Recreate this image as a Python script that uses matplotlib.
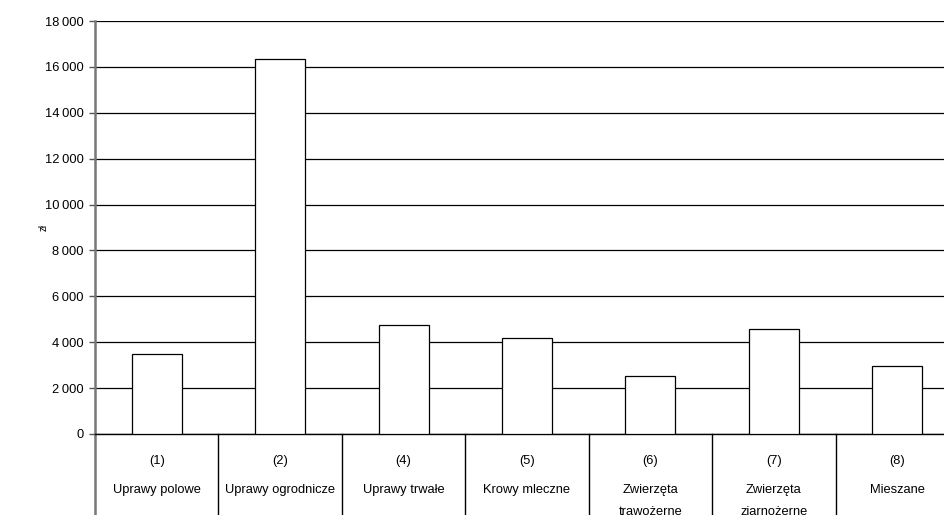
import numpy as np
import matplotlib.pyplot as plt
import matplotlib.transforms as mtransforms

plt.rcParams['font.family'] = ['Liberation Sans', 'DejaVu Sans']

codes = ['(1)', '(2)', '(4)', '(5)', '(6)', '(7)', '(8)']
names = ['Uprawy polowe', 'Uprawy ogrodnicze', 'Uprawy trwałe', 'Krowy mleczne',
         'Zwierzęta\ntrawożerne', 'Zwierzęta\nziarnożerne', 'Mieszane']
values = [3480, 16350, 4750, 4170, 2515, 4580, 2975]
yticks = [0, 2000, 4000, 6000, 8000, 10000, 12000, 14000, 16000, 18000]

W, H = 944, 515
fig = plt.figure(figsize=(W / 100, H / 100), dpi=100)
left, right, top, bottom = 95, 959, 21, 434
ax = fig.add_axes([left / W, (H - bottom) / H, (right - left) / W, (bottom - top) / H])

x = np.arange(len(values))
ax.bar(x, values, width=0.405, color='white', edgecolor='black', linewidth=0.9, zorder=3)

ax.set_xlim(-0.5, len(values) - 0.5)
ax.set_ylim(0, 18000)
ax.set_yticks(yticks)
ax.set_yticklabels([f'{v:,}'.replace(',', '\u2009') for v in yticks], fontsize=9.3)
ax.yaxis.grid(True, color='black', linewidth=0.9, zorder=0)
ax.set_axisbelow(True)
ax.tick_params(axis='y', length=4, width=1, color='#555555', pad=4)
ax.set_xticks([])

for s in ['top', 'right']:
    ax.spines[s].set_visible(False)
ax.spines['left'].set_color('#777777')
ax.spines['left'].set_linewidth(1.8)
ax.spines['bottom'].set_color('black')
ax.spines['bottom'].set_linewidth(1.0)

ax.set_ylabel('zł', fontsize=7)
ax.yaxis.set_label_coords(-46 / (right - left), 0.5)

# category table under the axis (the reference is cut at the bottom edge)
trans = mtransforms.blended_transform_factory(ax.transData, ax.transAxes)
px = 1 / (bottom - top)
for i in range(len(values) + 1):
    xb = i - 0.5
    ax.plot([xb, xb], [0, -100 * px], transform=trans, clip_on=False,
            color='#777777' if i == 0 else 'black', linewidth=1.8 if i == 0 else 1.0)
for i in range(len(values)):
    ax.text(i, -27 * px, codes[i], transform=trans, ha='center', va='center', fontsize=9.3)
    for j, line in enumerate(names[i].split('\n')):
        ax.text(i, -(56 + 22 * j) * px, line, transform=trans, ha='center', va='center',
                fontsize=9.3)

fig.savefig('out.png', dpi=100)
